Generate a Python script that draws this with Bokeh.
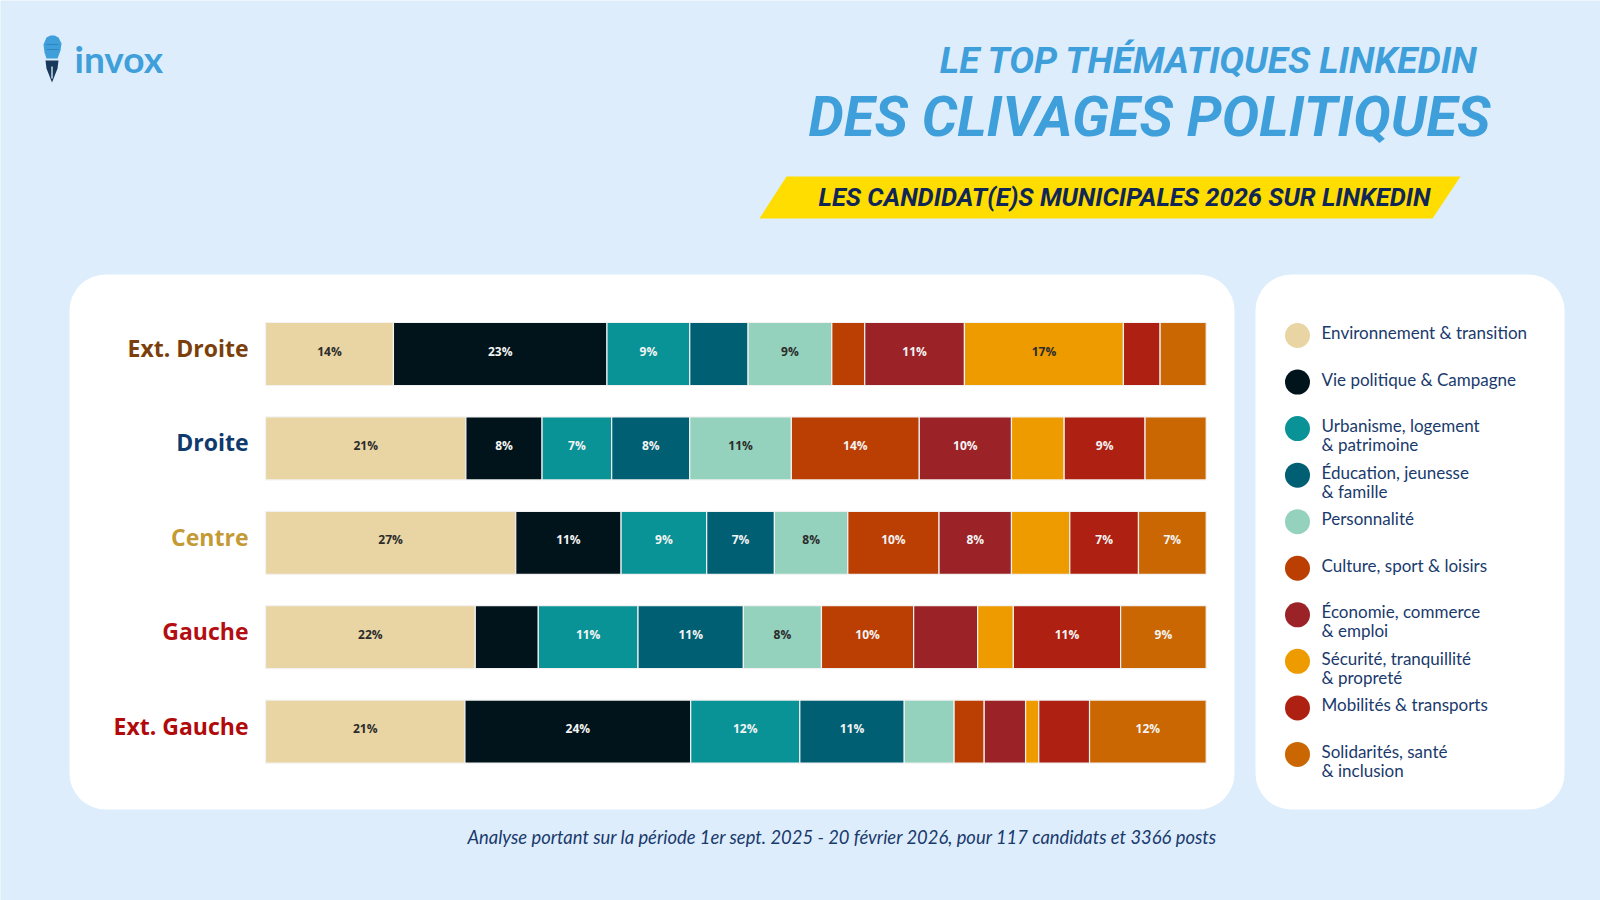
from bokeh.plotting import figure
from bokeh.models import ColumnDataSource, Range1d, BoxAnnotation
from bokeh.core.properties import value
from bokeh.embed import file_html
from bokeh.resources import INLINE

# ---------------- data ----------------
groups = ["Ext. Droite", "Droite", "Centre", "Gauche", "Ext. Gauche"]
themes = ["Environnement & transition", "Vie politique & Campagne",
          "Urbanisme, logement & patrimoine", "Éducation, jeunesse & famille",
          "Personnalité", "Culture, sport & loisirs", "Économie, commerce & emploi",
          "Sécurité, tranquillité & propreté", "Mobilités & transports",
          "Solidarités, santé & inclusion"]
legend_labels = ["Environnement & transition", "Vie politique & Campagne",
                 "Urbanisme, logement\n& patrimoine", "Éducation, jeunesse\n& famille",
                 "Personnalité", "Culture, sport & loisirs", "Économie, commerce\n& emploi",
                 "Sécurité, tranquillité\n& propreté", "Mobilités & transports",
                 "Solidarités, santé\n& inclusion"]

environnement = [13.6, 21.3, 26.6, 22.3, 21.2]
vie_politique = [22.7, 8.1, 11.2, 6.7, 24.0]
urbanisme = [8.8, 7.4, 9.1, 10.6, 11.6]
education = [6.2, 8.3, 7.2, 11.2, 11.1]
personnalite = [8.9, 10.8, 7.8, 8.3, 5.3]
culture = [3.5, 13.6, 9.7, 9.8, 3.2]
economie = [10.6, 9.8, 7.7, 6.8, 4.4]
securite = [16.9, 5.6, 6.2, 3.8, 1.4]
mobilites = [3.9, 8.6, 7.3, 11.4, 5.4]
solidarites = [4.9, 6.5, 7.2, 9.1, 12.4]
series = [environnement, vie_politique, urbanisme, education, personnalite,
          culture, economie, securite, mobilites, solidarites]

title1 = "LE TOP THÉMATIQUES LINKEDIN"
title2 = "DES CLIVAGES POLITIQUES"
banner = "LES CANDIDAT(E)S MUNICIPALES 2026 SUR LINKEDIN"
footer = "Analyse portant sur la période 1er sept. 2025 - 20 février 2026, pour 117 candidats et 3366 posts"

# ---------------- styles ----------------
colors = ["#E8D5A3", "#02141B", "#0A9396", "#005F73", "#94D2BD",
          "#BB3E03", "#9B2226", "#EE9B00", "#AE2012", "#CA6702"]
label_colors = ["#2B2B2B", "#F4F4F4", "#F4F4F4", "#F4F4F4", "#2B2B2B",
                "#F4F4F4", "#F4F4F4", "#2B2B2B", "#F4F4F4", "#F4F4F4"]
group_colors = ["#7B3F0C", "#0E3A6E", "#C49A36", "#B30F12", "#B00A0A"]
BG = "#DDEDFC"
NAVY = "#1A3A6C"
BLUE = "#3E9FDA"
TITLE_FONT = "Roboto"
TEXT_FONT = "Lato"

W, H = 1600, 900
def Y(y):
    return H - y

p = figure(width=W, height=H, x_range=Range1d(0, W), y_range=Range1d(0, H),
           output_backend="svg", toolbar_location=None,
           x_axis_location=None, y_axis_location=None, min_border=0,
           outline_line_color=None, background_fill_color=BG, border_fill_color=BG)
p.grid.visible = False

# scales for the bars
PX0, PX100 = 265.0, 1205.7
ppu = (PX100 - PX0) / 100.0
p.extra_x_ranges = {"pct": Range1d(-PX0 / ppu, (W - PX0) / ppu)}
ROW_TOP, ROW_STEP = 353.5, 94.4
n = len(groups)
start = -(H - (ROW_TOP + ROW_STEP * (n - 1))) / ROW_STEP
p.extra_y_ranges = {"rows": Range1d(start, start + H / ROW_STEP)}

# panels
p.add_layout(BoxAnnotation(left=69, right=1234, top=Y(274), bottom=Y(809),
                           fill_color="white", fill_alpha=1, line_color=None,
                           border_radius=36, level="underlay"))
p.add_layout(BoxAnnotation(left=1255, right=1564, top=Y(274), bottom=Y(809),
                           fill_color="white", fill_alpha=1, line_color=None,
                           border_radius=36, level="underlay"))

# ---------------- bars ----------------
ypos = [n - 1 - i for i in range(n)]
rows = dict(y=[], left=[], right=[], color=[], mid=[], label=[], tcolor=[])
cum = [0.0] * n
for vals, col, tcol in zip(series, colors, label_colors):
    for g in range(n):
        v = vals[g]
        rows["y"].append(ypos[g])
        rows["left"].append(cum[g])
        rows["right"].append(cum[g] + v)
        rows["mid"].append(cum[g] + v / 2)
        rows["color"].append(col)
        rows["label"].append(f"{round(v)}%" if v >= 7 else "")
        rows["tcolor"].append(tcol)
        cum[g] += v
src = ColumnDataSource(rows)
p.hbar(y="y", left="left", right="right", height=0.667, source=src,
       fill_color="color", line_color="#F2F2F2", line_width=1.2,
       x_range_name="pct", y_range_name="rows")
p.text(x="mid", y="y", text="label", source=src, text_color="tcolor",
       text_align="center", text_baseline="middle", y_offset=-3,
       text_font=value("Open Sans"),
       text_font_style="bold", text_font_size="12px",
       x_range_name="pct", y_range_name="rows")

# group labels
gsrc = ColumnDataSource(dict(y=ypos, text=groups, color=group_colors,
                             x=[-17.0 / ppu] * n))
p.text(x="x", y="y", text="text", source=gsrc, text_color="color",
       text_align="right", text_baseline="middle", y_offset=-6,
       text_font=value("Open Sans"), text_font_style="bold", text_font_size="23px",
       x_range_name="pct", y_range_name="rows")

# ---------------- legend ----------------
LX, LY0, LSTEP = 1297, 335, 46.55
lx, ly, l1, l2, l2y = [], [], [], [], []
for i, lab in enumerate(legend_labels):
    yy = LY0 + LSTEP * i
    lx.append(LX)
    ly.append(Y(yy))
    parts = lab.split("\n")
    l1.append(parts[0])
    l2.append(parts[1] if len(parts) > 1 else "")
    l2y.append(Y(yy + 19))
p.scatter(x=lx, y=ly, size=25, marker="circle", fill_color=colors, line_color=None)
for ys, txt in ((ly, l1), (l2y, l2)):
    p.text(x=[LX + 24] * len(txt), y=ys, text=txt, text_color=NAVY, text_align="left",
           text_baseline="middle", y_offset=-3, text_font=value(TEXT_FONT),
           text_font_size="17px")

# ---------------- titles ----------------
p.text(x=[1478], y=[Y(62.5)], text=[title1], text_color=BLUE, text_align="right",
       text_baseline="middle", y_offset=-3, text_font=value(TITLE_FONT),
       text_font_style="bold italic", text_font_size="37px")
p.text(x=[1490], y=[Y(120)], text=[title2], text_color=BLUE, text_align="right",
       text_baseline="middle", y_offset=-4, text_font=value(TITLE_FONT),
       text_font_style="bold italic", text_font_size="56px")
p.patch(x=[759, 786, 1460, 1432], y=[Y(218), Y(176), Y(176), Y(218)],
        fill_color="#FFDD00", line_color=None)
p.text(x=[1124], y=[Y(198)], text=[banner], text_color="#0F2657", text_align="center",
       text_baseline="middle", y_offset=-2, text_font=value(TITLE_FONT),
       text_font_style="bold italic", text_font_size="25.5px")

# footer
p.text(x=[842], y=[Y(839)], text=[footer], text_color=NAVY, text_align="center",
       text_baseline="middle", y_offset=-3, text_font=value(TEXT_FONT),
       text_font_style="italic", text_font_size="18.4px")

# ---------------- logo ----------------
p.patch(x=[43, 46, 50, 54, 58, 61, 60, 57, 46, 44],
        y=[Y(44), Y(37), Y(35), Y(35), Y(37), Y(43), Y(50), Y(58), Y(58), Y(52)],
        fill_color=BLUE, line_color=None)
p.segment(x0=[46, 46], y0=[Y(44), Y(49)], x1=[58, 58], y1=[Y(44), Y(49)],
          line_color="#2F86BF", line_width=1)
p.patch(x=[45, 58, 57, 51.5, 46], y=[Y(60), Y(60), Y(68), Y(82), Y(68)],
        fill_color="#16395C", line_color=None)
p.segment(x0=[51.5], y0=[Y(66)], x1=[51.5], y1=[Y(78)], line_color="white", line_width=1.2)
p.text(x=[74], y=[Y(58)], text=["invox"], text_color=BLUE, text_align="left",
       text_baseline="middle", text_font=value(TEXT_FONT), text_font_style="bold",
       text_font_size="37px")

open("out.html", "w").write(file_html(p, INLINE))
